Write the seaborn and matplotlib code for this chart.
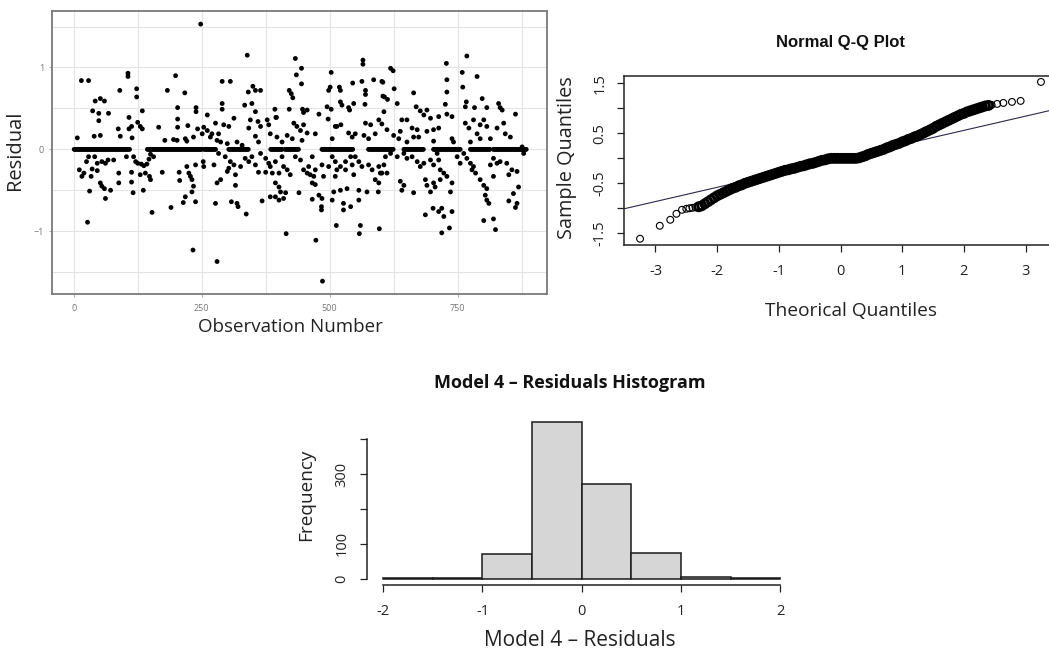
import numpy as np
import pandas as pd
import matplotlib
matplotlib.use("Agg")
import matplotlib.pyplot as plt
import seaborn as sns

sns.set_theme(style="white")
plt.rcParams['font.family'] = ['Open Sans', 'DejaVu Sans']

# ---------------- data: residuals vs observation number ----------------
scatter_points = [
    # obs 0-280
    (248, 1.53), (27, -0.89), (233, -1.23), (280, -1.37), (153, -0.77), (190, -0.71),
    (15, 0.84), (29, 0.84), (106, 0.93), (106, 0.89), (199, 0.90), (90, 0.72), (123, 0.74), (123, 0.64),
    (183, 0.72), (217, 0.69), (42, 0.59), (52, 0.62), (60, 0.59), (37, 0.47), (49, 0.44), (68, 0.44),
    (49, 0.35), (108, 0.39), (134, 0.47), (203, 0.51), (239, 0.51), (239, 0.46), (261, 0.42),
    (125, 0.33), (130, 0.28), (134, 0.25), (113, 0.28), (108, 0.25), (87, 0.25), (166, 0.27), (203, 0.37),
    (203, 0.27), (223, 0.29), (242, 0.25), (254, 0.27), (261, 0.23), (270, 0.19),
    (52, 0.17), (40, 0.16), (7, 0.14), (91, 0.16), (114, 0.14), (178, 0.11), (195, 0.12), (202, 0.11),
    (218, 0.13), (221, 0.10), (234, 0.15), (251, 0.19), (267, 0.15), (280, 0.11), (283, 0.19),
    (29, -0.09), (41, -0.09), (25, -0.15), (46, -0.17), (55, -0.15), (62, -0.17), (67, -0.13),
    (11, -0.25), (20, -0.29), (36, -0.24), (46, -0.26), (16, -0.33), (34, -0.33),
    (88, -0.29), (113, -0.28), (130, -0.31), (117, -0.09), (121, -0.15), (125, -0.17), (132, -0.18),
    (137, -0.20), (143, -0.18), (150, -0.06), (156, -0.09), (147, -0.12), (103, -0.09), (78, -0.13),
    (52, -0.41), (55, -0.45), (60, -0.48), (72, -0.50), (62, -0.60), (31, -0.51),
    (88, -0.41), (113, -0.40), (116, -0.53), (136, -0.50), (140, -0.29), (148, -0.33), (150, -0.37), (173, -0.28),
    (206, -0.28), (207, -0.38), (214, -0.65), (218, -0.58), (225, -0.29), (228, -0.33), (231, -0.37),
    (231, -0.52), (234, -0.45), (238, -0.64), (221, -0.21), (238, -0.19), (253, -0.15), (254, -0.21),
    (274, -0.19), (277, -0.66), (280, -0.41),
    # obs 280-600
    (339, 1.15), (433, 1.11), (565, 1.09), (565, 1.04), (486, -1.61), (415, -1.03), (473, -1.11),
    (513, -0.93), (560, -0.93), (558, -1.03), (597, -0.97), (337, -0.79), (308, -0.64), (319, -0.66), (321, -0.70),
    (503, 0.94), (445, 0.99), (435, 0.91), (445, 0.80), (290, 0.83), (306, 0.83), (350, 0.77), (341, 0.70),
    (355, 0.72), (365, 0.72), (421, 0.72), (425, 0.68), (428, 0.63), (501, 0.76), (498, 0.72), (519, 0.76),
    (521, 0.72), (545, 0.81), (563, 0.83), (586, 0.85), (602, 0.83), (570, 0.72), (570, 0.67), (569, 0.55), (604, 0.65),
    (290, 0.56), (290, 0.49), (334, 0.54), (348, 0.56), (355, 0.46), (345, 0.36), (393, 0.49), (396, 0.39),
    (421, 0.49), (447, 0.49), (456, 0.48), (449, 0.45), (495, 0.52), (503, 0.49), (521, 0.58), (524, 0.54),
    (537, 0.51), (539, 0.48), (547, 0.56), (479, 0.43), (497, 0.37), (514, 0.28), (522, 0.30), (570, 0.32),
    (580, 0.30), (596, 0.36), (602, 0.31), (277, 0.32), (293, 0.30), (313, 0.38), (303, 0.28), (342, 0.26),
    (360, 0.34), (365, 0.28), (378, 0.36), (381, 0.30), (395, 0.39), (430, 0.32), (436, 0.28), (443, 0.23),
    (449, 0.30), (456, 0.20), (472, 0.19), (505, 0.13), (511, 0.28), (537, 0.20), (544, 0.15), (550, 0.19),
    (355, 0.16), (361, 0.09), (384, 0.19), (397, 0.15), (407, 0.09), (417, 0.17), (427, 0.13), (446, 0.11),
    (567, 0.17), (576, 0.13), (589, 0.19), (287, 0.09), (300, 0.07), (319, 0.09), (329, 0.05),
    (283, -0.05), (296, -0.09), (306, -0.15), (313, -0.19), (303, -0.23), (300, -0.27), (287, -0.37),
    (316, -0.31), (316, -0.44), (326, -0.21), (335, -0.11), (342, -0.15), (348, -0.09), (355, -0.19),
    (365, -0.05), (375, -0.11), (381, -0.17), (384, -0.21), (394, -0.15), (388, -0.29), (401, -0.29),
    (407, -0.09), (410, -0.21), (361, -0.28), (375, -0.28), (394, -0.41), (401, -0.46), (394, -0.58),
    (404, -0.52), (410, -0.60), (368, -0.63), (384, -0.58), (401, -0.62), (414, -0.53),
    (417, -0.25), (423, -0.31), (433, -0.09), (443, -0.13), (449, -0.25), (456, -0.29), (459, -0.21),
    (466, -0.09), (462, -0.31), (472, -0.25), (469, -0.33), (466, -0.41), (472, -0.43),
    (440, -0.53), (466, -0.61), (479, -0.56), (485, -0.60), (484, -0.70), (484, -0.74),
    (485, -0.19), (488, -0.33), (498, -0.21), (505, -0.09), (511, -0.15), (514, -0.25), (511, -0.33),
    (521, -0.21), (531, -0.15), (531, -0.25), (541, -0.09), (544, -0.19),
    (508, -0.52), (505, -0.62), (521, -0.50), (534, -0.48), (527, -0.66), (527, -0.74), (541, -0.70),
    (557, -0.50), (557, -0.62), (547, -0.31), (550, -0.09), (557, -0.15), (563, -0.21), (576, -0.19),
    (583, -0.25), (596, -0.21), (602, -0.29), (589, -0.37), (596, -0.41), (573, -0.52), (595, -0.52),
    # obs 600-885
    (768, 1.14), (728, 1.05), (759, 0.94), (788, 0.89), (729, 0.85), (760, 0.76), (729, 0.70), (726, 0.55),
    (619, 0.99), (624, 0.96), (604, 0.82), (626, 0.74), (664, 0.69), (607, 0.64), (613, 0.61), (632, 0.56),
    (669, 0.52), (767, 0.58), (798, 0.62), (807, 0.51), (830, 0.56), (833, 0.51), (837, 0.48), (863, 0.43),
    (765, 0.52), (783, 0.51), (677, 0.47), (690, 0.48), (684, 0.42), (697, 0.38), (713, 0.40), (729, 0.43),
    (739, 0.40), (606, 0.46), (641, 0.36), (651, 0.36), (661, 0.26), (671, 0.24), (690, 0.22), (703, 0.24),
    (713, 0.26), (765, 0.32), (772, 0.26), (781, 0.36), (788, 0.19), (794, 0.30), (801, 0.36), (807, 0.28),
    (827, 0.26), (840, 0.32), (843, 0.19), (853, 0.15), (612, 0.24), (625, 0.17), (635, 0.13), (638, 0.22),
    (651, 0.09), (664, 0.15), (674, 0.15), (703, 0.10), (739, 0.13), (742, 0.09), (775, 0.09), (794, 0.13),
    (814, 0.13), (876, 0.03), (879, -0.01), (879, -0.05),
    (609, -0.09), (619, -0.05), (632, -0.09), (645, -0.05), (651, -0.11), (661, -0.09), (671, -0.15),
    (677, -0.21), (684, -0.17), (697, -0.13), (703, -0.19), (713, -0.13), (716, -0.25), (723, -0.29),
    (729, -0.33), (739, -0.41), (736, -0.52), (716, -0.37), (703, -0.41), (687, -0.37), (690, -0.44),
    (697, -0.52), (706, -0.46), (638, -0.39), (645, -0.44), (641, -0.50), (664, -0.53),
    (687, -0.80), (702, -0.72), (713, -0.76), (719, -0.72), (723, -0.82), (739, -0.76), (719, -1.02), (734, -0.96),
    (599, -0.29), (606, -0.19), (612, -0.29), (768, -0.11), (775, -0.17), (781, -0.21), (778, -0.25),
    (785, -0.29), (794, -0.37), (801, -0.44), (807, -0.48), (804, -0.56), (807, -0.62), (811, -0.66),
    (801, -0.87), (820, -0.85), (824, -0.98), (820, -0.11), (814, -0.19), (827, -0.17), (833, -0.15),
    (846, -0.17), (856, -0.25), (866, -0.27), (850, -0.31), (820, -0.33), (869, -0.46), (859, -0.54),
    (850, -0.63), (866, -0.66), (863, -0.71), (762, -0.05), (749, -0.09), (710, -0.05), (755, -0.17),
]
# stretches of observations whose residual is 0 (the flat band)
zero_runs = [(1, 110), (144, 250), (255, 278), (303, 342), (385, 408), (413, 440),
             (485, 545), (576, 625), (645, 684), (703, 755), (775, 814), (820, 885)]

# ---------------- data: normal Q-Q plot ----------------
qq_theoretical = [-3.25, -2.93, -2.76, -2.66, -2.57, -2.50, -2.45, -2.40, -2.35,
                  -2.30, -2.25, -2.20, -2.15, -2.10, -2.05, -2.00, -1.95, -1.90, -1.85, -1.80, -1.75,
                  -1.70, -1.65, -1.60, -1.55, -1.50, -1.45, -1.40, -1.35, -1.30, -1.25, -1.20, -1.15,
                  -1.10, -1.05, -1.00, -0.95, -0.90, -0.85, -0.80, -0.75, -0.70, -0.65, -0.60, -0.55,
                  -0.50, -0.45, -0.40, -0.35, -0.30, -0.25, -0.20, -0.15, -0.10, -0.05, 0.00, 0.05,
                  0.10, 0.15, 0.20, 0.25, 0.30, 0.35, 0.40, 0.45, 0.50, 0.55, 0.60, 0.65, 0.70, 0.75,
                  0.80, 0.85, 0.90, 0.95, 1.00, 1.05, 1.10, 1.15, 1.20, 1.25, 1.30, 1.35, 1.40, 1.45,
                  1.50, 1.55, 1.60, 1.65, 1.70, 1.75, 1.80, 1.85, 1.90, 1.95, 2.00, 2.05, 2.10, 2.15,
                  2.20, 2.25, 2.30, 2.35, 2.40, 2.45, 2.54, 2.64, 2.78, 2.92, 3.25]
qq_sample = [-1.61, -1.35, -1.23, -1.11, -1.03, -1.01, -1.00, -0.99, -0.98,
             -0.97, -0.95, -0.91, -0.87, -0.83, -0.79, -0.75, -0.72, -0.69, -0.66, -0.63, -0.60,
             -0.58, -0.55, -0.53, -0.50, -0.48, -0.46, -0.44, -0.42, -0.40, -0.38, -0.36, -0.34,
             -0.32, -0.30, -0.28, -0.26, -0.24, -0.23, -0.21, -0.20, -0.18, -0.16, -0.15, -0.13,
             -0.11, -0.10, -0.08, -0.06, -0.04, -0.03, -0.01, 0.00, 0.00, 0.00, 0.00, 0.00,
             0.00, 0.00, 0.00, 0.00, 0.01, 0.03, 0.05, 0.08, 0.10, 0.12, 0.14, 0.16, 0.18, 0.21,
             0.23, 0.26, 0.28, 0.30, 0.33, 0.35, 0.38, 0.40, 0.43, 0.45, 0.48, 0.51, 0.54, 0.57,
             0.60, 0.64, 0.67, 0.70, 0.73, 0.76, 0.79, 0.82, 0.85, 0.88, 0.90, 0.93, 0.95, 0.97,
             0.99, 1.01, 1.03, 1.05, 1.06, 1.07, 1.09, 1.11, 1.13, 1.15, 1.53]
qq_line_intercept = -0.01
qq_line_slope = 0.285

# ---------------- data: histogram ----------------
hist_edges = [-2.0, -1.5, -1.0, -0.5, 0.0, 0.5, 1.0, 1.5, 2.0]
hist_counts = [1, 3, 71, 450, 270, 75, 4, 1]

# ---------------- assemble frames ----------------
scatter_df = pd.DataFrame(scatter_points, columns=["obs", "residual"])
zero_obs = np.concatenate([np.arange(a, b + 1, 2) for a, b in zero_runs])
zero_df = pd.DataFrame({"obs": zero_obs, "residual": np.zeros(len(zero_obs))})
resid_df = pd.concat([zero_df, scatter_df], ignore_index=True)

qq_df = pd.DataFrame({"theo": qq_theoretical, "sample": qq_sample})
qq_dense = qq_df[(qq_df["theo"] >= -2.32) & (qq_df["theo"] <= 2.42)]
qq_tail = qq_df[(qq_df["theo"] < -2.32) | (qq_df["theo"] > 2.42)]
edges = np.array(hist_edges)
hist_df = pd.DataFrame({"mid": (edges[:-1] + edges[1:]) / 2, "count": hist_counts})

W, H = 1049, 655
fig = plt.figure(figsize=(W / 100, H / 100), dpi=100)
fig.patch.set_facecolor("white")


def px(x0, y0, x1, y1):
    return [x0 / W, 1 - y1 / H, (x1 - x0) / W, (y1 - y0) / H]


# ---------------- panel 1: residual scatter ----------------
ax1 = fig.add_axes(px(51.7, 11, 546.7, 294))
sns.scatterplot(data=resid_df, x="obs", y="residual", ax=ax1, s=12, color="black",
                edgecolor="none", linewidth=0, zorder=3)
ax1.set_xlim(-43, 924)
ax1.set_ylim(-1.767, 1.69)
ax1.set_xticks([0, 250, 500, 750])
ax1.set_xticks([125, 375, 625, 875], minor=True)
ax1.set_yticks([-1, 0, 1])
ax1.set_yticks([-1.5, -0.5, 0.5, 1.5], minor=True)
ax1.grid(True, which="both", color="#e4e4e4", linewidth=0.8)
ax1.set_axisbelow(True)
for sp in ax1.spines.values():
    sp.set_visible(True)
    sp.set_color("#7a7a7a")
    sp.set_linewidth(1.3)
ax1.tick_params(which="major", left=True, bottom=True, length=2.5, width=0.6, color="#999999",
                labelsize=6.5, labelcolor="#777777", pad=3)
ax1.tick_params(axis="x", pad=5)
ax1.tick_params(which="minor", length=0)
ax1.set_xlabel("")
ax1.set_ylabel("")
fig.text(15 / W, 1 - 150 / H, "Residual", rotation=90, ha="center", va="center", fontsize=14.5, color="#222222")
fig.text(290 / W, 1 - 327 / H, "Observation Number", ha="center", va="center", fontsize=13.5, color="#222222")

# ---------------- panel 2: normal Q-Q ----------------
ax2 = fig.add_axes(px(624, 75.7, 1057, 245))
sns.scatterplot(data=qq_dense, x="theo", y="sample", ax=ax2, s=34, marker="o",
                color="black", edgecolor="black", linewidth=2.0, zorder=3)
ax2.collections[-1].set_facecolor("none")
sns.scatterplot(data=qq_tail, x="theo", y="sample", ax=ax2, s=24, marker="o",
                color="black", edgecolor="black", linewidth=0.8, zorder=3)
ax2.collections[-1].set_facecolor("none")
ax2.axline((0, qq_line_intercept), slope=qq_line_slope, color="#2b2b4a", linewidth=0.8, zorder=2)
ax2.set_xlim(-3.51, 3.51)
ax2.set_ylim(-1.735, 1.655)
ax2.set_xticks([-3, -2, -1, 0, 1, 2, 3])
ax2.set_xticklabels(["-3", "-2", "-1", "0", "1", "2", "3"])
ax2.set_yticks([-1.5, -1.0, -0.5, 0.0, 0.5, 1.0, 1.5])
ax2.set_yticklabels(["-1.5", "", "-0.5", "", "0.5", "", "1.5"], rotation=90, va="center")
for sp in ax2.spines.values():
    sp.set_visible(True)
    sp.set_color("#222222")
    sp.set_linewidth(1.1)
ax2.tick_params(left=True, bottom=True, direction="out", length=5, width=0.9, color="#222222",
                labelsize=10.5, labelcolor="#222222")
ax2.tick_params(axis="x", pad=9)
ax2.tick_params(axis="y", pad=7)
ax2.set_xlabel("")
ax2.set_ylabel("")
fig.text(840 / W, 1 - 43 / H, "Normal Q-Q Plot", ha="center", va="center", fontsize=12,
         fontweight="bold", family=["Liberation Sans", "DejaVu Sans"], color="#111111")
fig.text(567 / W, 1 - 158 / H, "Sample Quantiles", rotation=90, ha="center", va="center", fontsize=14.3, color="#222222")
fig.text(851 / W, 1 - 311 / H, "Theorical Quantiles", ha="center", va="center", fontsize=13.8, color="#222222")

# ---------------- panel 3: histogram ----------------
ax3 = fig.add_axes(px(367.4, 415.3, 796, 585))
sns.histplot(data=hist_df, x="mid", weights="count", bins=hist_edges, stat="count", ax=ax3,
             color="#d6d6d6", edgecolor="#1a1a1a", linewidth=1.1, alpha=1)
ax3.set_xlim(-2.16, 2.16)
ax3.set_ylim(-18, 468)
ax3.set_xticks([-2, -1, 0, 1, 2])
ax3.set_xticklabels(["-2", "-1", "0", "1", "2"])
ax3.set_yticks([0, 100, 200, 300, 400])
ax3.set_yticklabels(["0", "100", "", "300", ""], rotation=90, va="center")
ax3.spines["top"].set_visible(False)
ax3.spines["right"].set_visible(False)
ax3.spines["left"].set_bounds(0, 400)
ax3.spines["bottom"].set_bounds(-2, 2)
for k in ["left", "bottom"]:
    ax3.spines[k].set_visible(True)
    ax3.spines[k].set_color("#222222")
    ax3.spines[k].set_linewidth(1.1)
ax3.tick_params(left=True, bottom=True, direction="out", length=5, width=0.9, color="#222222",
                labelsize=10.5, labelcolor="#222222")
ax3.tick_params(axis="x", pad=9)
ax3.tick_params(axis="y", pad=8)
ax3.set_xlabel("")
ax3.set_ylabel("")
fig.text(570 / W, 1 - 383 / H, "Model 4 \u2013 Residuals Histogram", ha="center", va="center",
         fontsize=13, fontweight="bold", color="#111111")
fig.text(306 / W, 1 - 495 / H, "Frequency", rotation=90, ha="center", va="center", fontsize=13.7, color="#222222")
fig.text(580 / W, 1 - 640 / H, "Model 4 \u2013 Residuals", ha="center", va="center", fontsize=15, color="#222222")

fig.savefig("out.png", dpi=100, facecolor="white")
